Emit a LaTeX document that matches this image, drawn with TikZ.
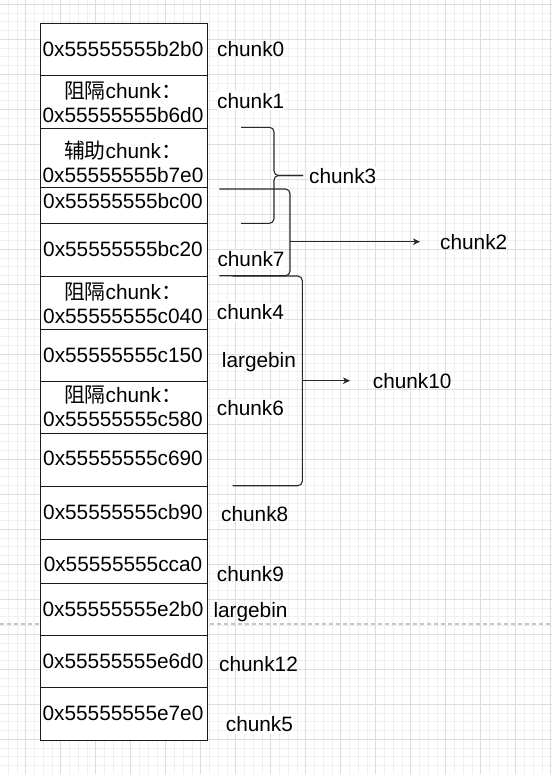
\documentclass[tikz,border=0pt]{standalone}
\usepackage{fontspec}
\setmainfont{Liberation Sans}
\newfontfamily\cjk{Noto Sans CJK SC}
\usetikzlibrary{arrows.meta}
\definecolor{gridminor}{RGB}{240,240,240}
\definecolor{gridmajor}{RGB}{221,221,221}
\definecolor{linec}{RGB}{40,40,40}
\begin{document}
\begin{tikzpicture}[x=1pt,y=-1pt,
  minorline/.style={draw=gridminor, line width=0.9pt},
  majorline/.style={draw=gridmajor, line width=0.9pt},
  box/.style={draw=black!90, line width=1.1pt, fill=white, inner sep=0pt, minimum width=166.7pt, anchor=north west},
  addr/.style={font=\fontsize{20.8}{24}\selectfont, inner sep=0pt, align=center},
  addr1/.style={addr, text height=15pt, text depth=0pt},
  lbl/.style={font=\fontsize{20.8}{24}\selectfont, inner sep=0pt, anchor=west, text height=15pt, text depth=0pt},
  lblbg/.style={lbl, fill=white, inner ysep=2pt},
  bracket/.style={draw=linec, line width=1.1pt, rounded corners=4.5pt},
  conn/.style={draw=linec, line width=1.1pt, -{Stealth[length=7pt,width=6.5pt,inset=2pt]}}
]
\useasboundingbox (0,0) rectangle (552,774);
\fill[white] (0,0) rectangle (552,774);
% grid
\foreach \k in {0,...,62} \draw[minorline] ({8.2+8.75*\k},0) -- ({8.2+8.75*\k},774);
\foreach \k in {0,...,88} \draw[minorline] (0,{4.3+8.75*\k}) -- (552,{4.3+8.75*\k});
\foreach \k in {0,...,15} \draw[majorline] ({25.7+35*\k},0) -- ({25.7+35*\k},774);
\foreach \k in {0,...,22} \draw[majorline] (0,{4.3+35*\k}) -- (552,{4.3+35*\k});
% page break line
\draw[draw=black!22, line width=1.2pt, dash pattern=on 4pt off 3pt] (0,624) -- (552,624);

% boxes
\node[box, minimum height=52.3pt] (b1) at (40,22.7) {};
\node[box, minimum height=52.7pt] (b2) at (40,75) {};
\node[box, minimum height=59.6pt] (b3) at (40,127.7) {};
\node[box, minimum height=36pt] (b4) at (40,187.3) {};
\node[box, minimum height=52.7pt] (b5) at (40,223.3) {};
\node[box, minimum height=52.7pt] (b6) at (40,276) {};
\node[box, minimum height=52.6pt] (b7) at (40,328.7) {};
\node[box, minimum height=52pt] (b8) at (40,381.3) {};
\node[box, minimum height=52.7pt] (b9) at (40,433.3) {};
\node[box, minimum height=52.7pt] (b10) at (40,486) {};
\node[box, minimum height=44pt] (b11) at (40,538.7) {};
\node[box, minimum height=52pt] (b12) at (40,582.7) {};
\node[box, minimum height=52.6pt] (b13) at (40,634.7) {};
\node[box, minimum height=52.7pt] (b14) at (40,687.3) {};

% box texts
\node[addr1] (t1) at (123,49) {0x55555555b2b0};
\node[addr] (t2) at (123,102) {{\cjk 阻隔}chunk{\cjk ：}\\0x55555555b6d0};
\node[addr] (t3) at (123,162) {{\cjk 辅助}chunk{\cjk ：}\\0x55555555b7e0};
\node[addr1] (t4) at (123,200.7) {0x55555555bc00};
\node[addr1] (t5) at (123,249.3) {0x55555555bc20};
\node[addr] (t6) at (123,303) {{\cjk 阻隔}chunk{\cjk ：}\\0x55555555c040};
\node[addr1] (t7) at (123,355) {0x55555555c150};
\node[addr] (t8) at (123,406.5) {{\cjk 阻隔}chunk{\cjk ：}\\0x55555555c580};
\node[addr1] (t9) at (123,458.3) {0x55555555c690};
\node[addr1] (t10) at (123,511.7) {0x55555555cb90};
\node[addr1] (t11) at (123,564.3) {0x55555555cca0};
\node[addr1] (t12) at (123,609) {0x55555555e2b0};
\node[addr1] (t13) at (123,661) {0x55555555e6d0};
\node[addr1] (t14) at (123,713.3) {0x55555555e7e0};

% brackets
\draw[bracket] (241,127.3) -- (274,127.3) -- (274,175.5) -- (303,175.5);
\draw[bracket] (303,175.5) -- (274,175.5) -- (274,223.3) -- (241,223.3);
\draw[bracket] (219.3,189) -- (290,189) -- (290,275.7) -- (219.3,275.7);
\draw[bracket] (232.7,276) -- (302.3,276) -- (302.3,485.7) -- (232.7,485.7);

% labels
\node[lbl] (l0) at (217,49) {chunk0};
\node[lblbg] (l1) at (217,100.7) {chunk1};
\node[lblbg] (l3) at (309,176) {chunk3};
\node[lbl] (l2) at (440,242.3) {chunk2};
\node[lblbg] (l7) at (217.3,259) {chunk7};
\node[lblbg] (l4) at (216.7,312.3) {chunk4};
\node[lbl] (lb1) at (221.7,360) {largebin};
\node[lbl] (l10) at (372.7,380.7) {chunk10};
\node[lblbg] (l6) at (216.7,408.3) {chunk6};
\node[lbl] (l8) at (221,514) {chunk8};
\node[lbl] (l9) at (216.7,573.5) {chunk9};
\node[lbl] (lb2) at (213.3,610) {largebin};
\node[lbl] (l12) at (219,664.3) {chunk12};
\node[lblbg] (l5) at (225.7,724) {chunk5};

% arrows
\coordinate (br2tip) at (290,241.7);
\coordinate (a2end) at (420,241.7);
\coordinate (br3tip) at (302.3,380.7);
\coordinate (a3end) at (350,380.7);
\draw[conn] (br2tip) -- (a2end);
\draw[conn] (br3tip) -- (a3end);
\end{tikzpicture}
\end{document}
